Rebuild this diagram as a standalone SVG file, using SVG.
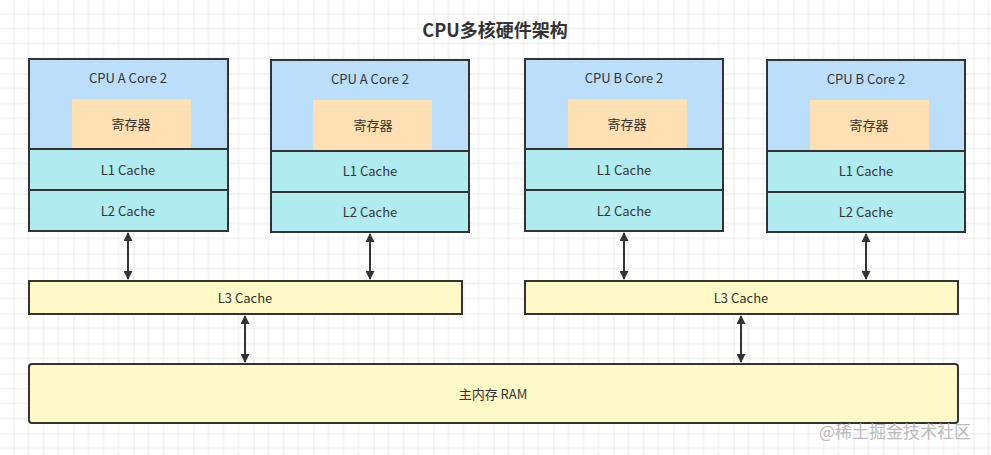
<svg xmlns="http://www.w3.org/2000/svg" width="991" height="455" viewBox="0 0 991 455">
<defs>
<pattern id="g" x="13.5" y="13.5" width="60" height="60" patternUnits="userSpaceOnUse">
<path d="M0 0V60M15 0V60M30 0V60M45 0V60M0 0H60M0 15H60M0 30H60M0 45H60" stroke="#ebebeb" stroke-width="1" fill="none"/>
<path d="M0 0V60M0 0H60" stroke="#dedede" stroke-width="1" fill="none"/>
</pattern>
<marker id="a" viewBox="0 0 10 10" refX="9" refY="5" markerWidth="5" markerHeight="4.5" orient="auto-start-reverse"><path d="M0 0L10 5L0 10z" fill="#333"/></marker>
</defs>
<style>
.b{stroke:#333;stroke-width:2}
.top{fill:#bbdefb}.c{fill:#b0ebf0}.reg{fill:#ffe0b2}.y{fill:#fff8c7}
text{font-family:"Noto Sans CJK SC","Liberation Sans",sans-serif;font-size:13px;fill:#333;text-anchor:middle;dominant-baseline:central}
.cn{stroke:#333;stroke-width:2;marker-start:url(#a);marker-end:url(#a)}
</style>
<rect width="991" height="455" fill="#fff"/>
<rect width="991" height="455" fill="url(#g)"/>
<text x="495" y="29" style="font-size:18px;font-weight:bold">CPU多核硬件架构</text>
<g id="core1"><rect class="b top" x="29" y="59" width="199" height="90"/><rect class="reg" x="72" y="99" width="119" height="50"/><text x="128" y="77">CPU A Core 2</text><text x="131" y="123">寄存器</text><rect class="b c" x="29" y="149" width="199" height="41"/><text x="128" y="169">L1 Cache</text><rect class="b c" x="29" y="190" width="199" height="41"/><text x="128" y="210">L2 Cache</text></g>
<g id="core2"><rect class="b top" x="271" y="60" width="198" height="91"/><rect class="reg" x="313" y="100" width="119" height="51"/><text x="370" y="78">CPU A Core 2</text><text x="373" y="124">寄存器</text><rect class="b c" x="271" y="151" width="198" height="41"/><text x="370" y="170">L1 Cache</text><rect class="b c" x="271" y="192" width="198" height="40"/><text x="370" y="211">L2 Cache</text></g>
<g id="core3"><rect class="b top" x="525" y="59" width="198" height="90"/><rect class="reg" x="568" y="99" width="119" height="50"/><text x="624" y="77">CPU B Core 2</text><text x="627" y="123">寄存器</text><rect class="b c" x="525" y="149" width="198" height="41"/><text x="624" y="169">L1 Cache</text><rect class="b c" x="525" y="190" width="198" height="41"/><text x="624" y="210">L2 Cache</text></g>
<g id="core4"><rect class="b top" x="767" y="60" width="198" height="91"/><rect class="reg" x="810" y="100" width="119" height="51"/><text x="866" y="78">CPU B Core 2</text><text x="869" y="124">寄存器</text><rect class="b c" x="767" y="151" width="198" height="41"/><text x="866" y="170">L1 Cache</text><rect class="b c" x="767" y="192" width="198" height="40"/><text x="866" y="211">L2 Cache</text></g>
<g id="l3a"><rect class="b y" x="29" y="281" width="433" height="33"/><text x="245" y="297">L3 Cache</text></g>
<g id="l3b"><rect class="b y" x="525" y="281" width="433" height="33"/><text x="741" y="297">L3 Cache</text></g>
<g id="ram"><rect class="b y" x="29" y="364" width="929" height="59" rx="3"/><text x="493" y="393">主内存 RAM</text></g>
<g id="connectors">
<line class="cn" x1="128" y1="233" x2="128" y2="279"/>
<line class="cn" x1="370" y1="234" x2="370" y2="279"/>
<line class="cn" x1="624" y1="233" x2="624" y2="279"/>
<line class="cn" x1="866" y1="234" x2="866" y2="279"/>
<line class="cn" x1="245" y1="316" x2="245" y2="362"/>
<line class="cn" x1="741" y1="316" x2="741" y2="362"/>
</g>
<text x="895" y="430" style="font-size:17px;fill:#bbb">@稀土掘金技术社区</text>
</svg>
